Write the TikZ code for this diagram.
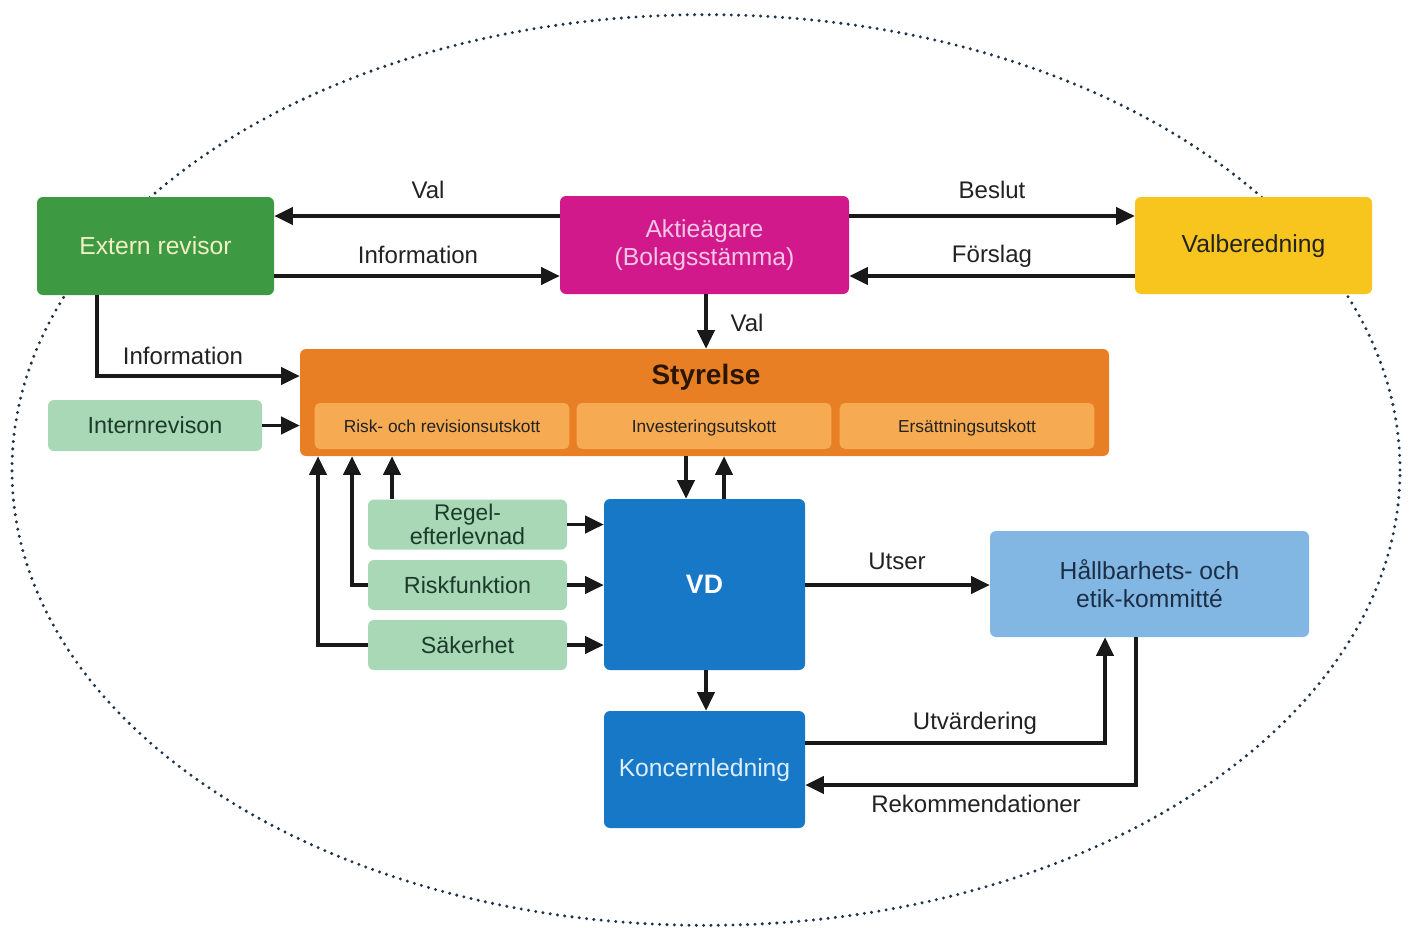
\documentclass[tikz,border=0pt]{standalone}
\usepackage{fontspec}
\setmainfont{Liberation Sans}
\usetikzlibrary{arrows.meta,calc}
\definecolor{cgreen}{HTML}{3D9A42}
\definecolor{cmag}{HTML}{D1198C}
\definecolor{cyel}{HTML}{F8C51E}
\definecolor{corange}{HTML}{E87F24}
\definecolor{csub}{HTML}{F6AA52}
\definecolor{clgreen}{HTML}{A8D8B5}
\definecolor{cblue}{HTML}{1878C8}
\definecolor{clblue}{HTML}{83B7E3}
\definecolor{cdots}{HTML}{1F3448}
\definecolor{ctxt}{HTML}{222222}
\definecolor{textext}{HTML}{F2EFC4}
\definecolor{textakt}{HTML}{F3C6E3}
\definecolor{textkon}{HTML}{DCEEFB}
\definecolor{texthal}{HTML}{1B2E45}
\definecolor{textg}{HTML}{1D3B2B}
\definecolor{textsty}{HTML}{2A1600}
\tikzset{
  box/.style={rectangle, rounded corners=4.5pt, inner sep=0pt, align=center, font=\fontsize{18.5}{21}\selectfont},
  subbox/.style={rectangle, rounded corners=4pt, inner sep=0pt, fill=csub, minimum width=191pt, minimum height=34.5pt, font=\fontsize{13}{15}\selectfont, text=ctxt, text height=9.5pt, text depth=0.5pt},
  gbox/.style={box, fill=clgreen, text=textg, minimum width=149.25pt, minimum height=37.5pt, font=\fontsize{17.5}{18}\selectfont},
  arr/.style={line width=2.6pt, -{Triangle[length=14pt,width=13pt]}, draw=black!90},
  lbl/.style={font=\fontsize{18}{21}\selectfont, text=ctxt, inner sep=0pt, text height=13pt, text depth=0pt}
}
\begin{document}
\begin{tikzpicture}[x=0.75pt, y=-0.75pt]
\useasboundingbox[fill=white] (0,0) rectangle (1413,931);
% dotted ellipse
\draw[cdots, line width=2.5pt, line cap=round, dash pattern=on 0pt off 5.5pt] (706,470) ellipse [x radius=520.5pt, y radius=341.5pt];

% top row
\node[box, fill=cgreen, text=textext, minimum width=177.75pt, minimum height=73.5pt] (ext) at (155.5,246) {Extern revisor};
\node[box, fill=cmag, text=textakt, minimum width=216.75pt, minimum height=73.5pt] (akt) at (704.5,245) {Aktieägare\\(Bolagsstämma)};
\node[box, fill=cyel, text=ctxt, minimum width=177.75pt, minimum height=72.75pt, text height=13pt, text depth=2pt] (val) at (1253.5,245.5) {Valberedning};

% Styrelse
\node[box, fill=corange, minimum width=606.75pt, minimum height=80.25pt] (sty) at (704.5,402.5) {};
\node[font=\bfseries\fontsize{21}{24}\selectfont, text=textsty, inner sep=0pt] (stytxt) at (706,377) {Styrelse};
\node[subbox] (sub1) at (442,426) {Risk- och revisionsutskott};
\node[subbox] (sub2) at (704,426) {Investeringsutskott};
\node[subbox] (sub3) at (967,426) {Ersättningsutskott};

\node[gbox, minimum width=160.5pt, minimum height=38.25pt] (int) at (155,425.5) {Internrevison};
\node[gbox] (reg) at (467.5,524.5) {\fontsize{17}{18.5}\selectfont Regel-\\efterlevnad};
\node[gbox] (risk) at (467.5,585) {Riskfunktion};
\node[gbox] (sak) at (467.5,645) {Säkerhet};

\node[box, fill=cblue, text=white, font=\bfseries\fontsize{20}{24}\selectfont, minimum width=150.75pt, minimum height=128.25pt] (vd) at (704.5,584.5) {VD};
\node[box, fill=cblue, text=textkon, minimum width=150.75pt, minimum height=87.75pt, text height=13pt, text depth=2pt] (kon) at (704.5,769.5) {Koncernledning};
\node[box, fill=clblue, text=texthal, minimum width=239.25pt, minimum height=79.5pt] (hal) at (1149.5,584) {Hållbarhets- och\\etik-kommitté};

% arrows top row
\draw[arr] (akt.west |- 0,216) -- (ext.east |- 0,216);
\draw[arr] (ext.east |- 0,276) -- (akt.west |- 0,276);
\draw[arr] (akt.east |- 0,216) -- (val.west |- 0,216);
\draw[arr] (val.west |- 0,276) -- (akt.east |- 0,276);
\draw[arr] (akt.south -| 706,0) -- (sty.north -| 706,0);
\node[lbl] (l1) at (428,190) {Val};
\node[lbl] (l2) at (418,255) {Information};
\node[lbl] (l3) at (992,190) {Beslut};
\node[lbl] (l4) at (992,254) {Förslag};
\node[lbl] (l5) at (747,323) {Val};

% left side
\draw[arr] (ext.south -| 97,0) |- (sty.west |- 0,376);
\node[lbl] (l6) at (183,356) {Information};
\draw[arr] (int.east) -- (sty.west |- int.east);

% up arrows to Styrelse
\draw[arr] (sak.west) -| (sty.south -| 318,0);
\draw[arr] (risk.west) -| (sty.south -| 352,0);
\draw[arr] (reg.north -| 392,0) -- (sty.south -| 392,0);

% Styrelse <-> VD
\draw[arr] (sty.south -| 686,0) -- (vd.north -| 686,0);
\draw[arr] (vd.north -| 724,0) -- (sty.south -| 724,0);

% green -> VD
\draw[arr] (reg.east) -- (vd.west |- reg.east);
\draw[arr] (risk.east) -- (vd.west |- risk.east);
\draw[arr] (sak.east) -- (vd.west |- sak.east);

% VD -> Hallbarhet
\draw[arr] (vd.east |- 0,585) -- (hal.west |- 0,585);
\node[lbl] (l7) at (897,561) {Utser};
\draw[arr] (vd.south -| 706,0) -- (kon.north -| 706,0);

% Koncernledning <-> Hallbarhet
\draw[arr] (kon.east |- 0,743) -| (hal.south -| 1105,0);
\node[lbl] (l8) at (975,721) {Utvärdering};
\draw[arr] (hal.south -| 1136,0) |- (kon.east |- 0,785);
\node[lbl] (l9) at (976,804) {Rekommendationer};
\end{tikzpicture}
\end{document}
